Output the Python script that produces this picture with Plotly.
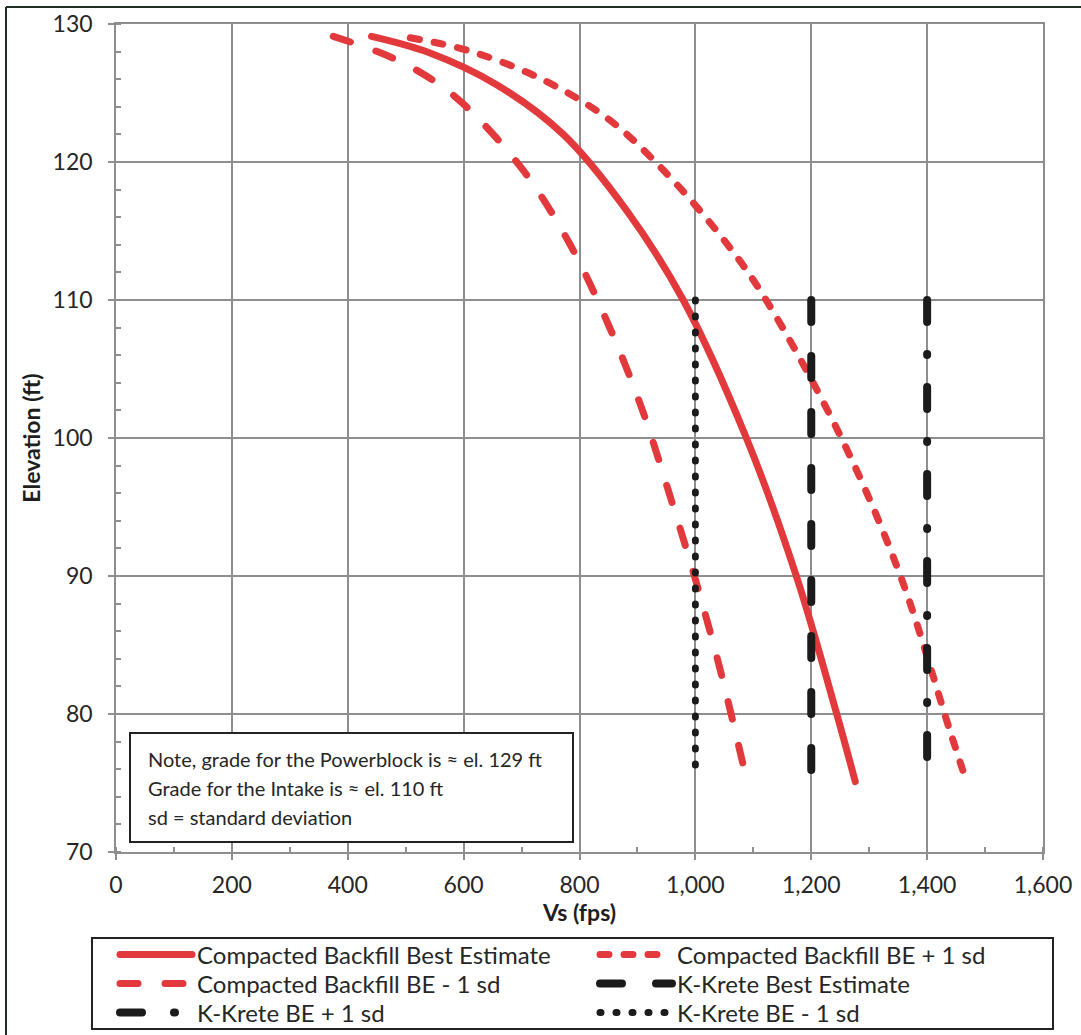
import plotly.graph_objects as go

# ---- data ----
cb_be_vs = [441, 542, 657, 772, 881, 979, 1088, 1175, 1244, 1276]
cb_be_el = [129.1, 127.9, 125.6, 122.0, 116.5, 110.0, 100.0, 89.9, 80.0, 75.1]

cb_p1_vs = [508, 606, 730, 847, 945, 1054, 1122, 1252, 1354, 1440, 1468]
cb_p1_el = [129.0, 128.1, 126.1, 123.2, 119.4, 114.1, 110.0, 100.0, 90.0, 78.7, 75.1]

cb_m1_vs = [375, 466, 535, 597, 701, 784, 851, 907, 954, 999, 1041, 1082]
cb_m1_el = [129.1, 127.75, 126.25, 124.3, 119.5, 114.0, 108.1, 102.2, 96.1, 89.9, 83.5, 76.4]

kk_be_vs = [1200, 1200]
kk_be_el = [110.0, 75.3]
kk_p1_vs = [1400, 1400]
kk_p1_el = [110.0, 75.3]
kk_m1_vs = [1000, 1000]
kk_m1_el = [110.0, 75.3]

names = ["Compacted Backfill Best Estimate", "Compacted Backfill BE + 1 sd",
         "Compacted Backfill BE - 1 sd", "K-Krete Best Estimate",
         "K-Krete BE + 1 sd", "K-Krete BE - 1 sd"]

note_lines = ["Note, grade for the Powerblock is \u2248 el. 129 ft",
              "Grade for the Intake is \u2248 el. 110 ft",
              "sd = standard deviation"]

x_ticks = [0, 200, 400, 600, 800, 1000, 1200, 1400, 1600]
y_ticks = [70, 80, 90, 100, 110, 120, 130]

RED = "#E23A3C"
BLK = "#1b1b1b"
GRID = "#8e8e8e"
FONT = "Lato"
TXT = "#262626"

W, H = 1081, 1035
L, R, T, B = 116, 38, 24, 183
pw, ph = W - L - R, H - T - B

def px(xp):
    return (xp - L) / pw

def py(yp):
    return (H - B - yp) / ph

leg_ids = ["legend", "legend2", "legend3", "legend4", "legend5", "legend6"]

fig = go.Figure()
fig.add_trace(go.Scatter(x=cb_be_vs, y=cb_be_el, name=names[0], mode="lines", legend=leg_ids[0],
                         line=dict(color=RED, width=7, shape="spline", smoothing=1)))
fig.add_trace(go.Scatter(x=cb_p1_vs, y=cb_p1_el, name=names[1], mode="lines", legend=leg_ids[1],
                         line=dict(color=RED, width=7, shape="spline", smoothing=1, dash="9px,15px")))
fig.add_trace(go.Scatter(x=cb_m1_vs, y=cb_m1_el, name=names[2], mode="lines", legend=leg_ids[2],
                         line=dict(color=RED, width=7, shape="spline", smoothing=1, dash="18px,27px")))
fig.add_trace(go.Scatter(x=kk_be_vs, y=kk_be_el, name=names[3], mode="lines", legend=leg_ids[3],
                         line=dict(color=BLK, width=8, dash="22px,34px")))
fig.add_trace(go.Scatter(x=kk_p1_vs, y=kk_p1_el, name=names[4], mode="lines", legend=leg_ids[4],
                         line=dict(color=BLK, width=8, dash="22px,32px,1px,32px")))
fig.add_trace(go.Scatter(x=kk_m1_vs, y=kk_m1_el, name=names[5], mode="lines", legend=leg_ids[5],
                         line=dict(color=BLK, width=7, dash="1px,15px")))

col_x = [115, 595]
row_y = [955, 984, 1013]
legends = {}
for i, lid in enumerate(leg_ids):
    legends[lid] = dict(orientation="v", xanchor="left", yanchor="middle", borderwidth=0,
                        bgcolor="rgba(0,0,0,0)", itemwidth=72, tracegroupgap=0,
                        x=px(col_x[i % 2]), y=py(row_y[i // 2]),
                        font=dict(family=FONT, size=24, color=TXT))

fig.update_layout(
    width=W, height=H,
    margin=dict(l=L, r=R, t=T, b=B, pad=0, autoexpand=False),
    paper_bgcolor="white", plot_bgcolor="white",
    font=dict(family=FONT, size=22, color=TXT),
    showlegend=True,
    **legends,
)

fig.update_xaxes(range=[0, 1600], tickvals=x_ticks, tickformat=",d", automargin=False,
                 showgrid=True, gridcolor=GRID, gridwidth=1.5,
                 showline=True, linecolor=GRID, linewidth=1.5, mirror=True,
                 ticks="outside", ticklen=6, tickcolor=GRID, tickwidth=1.5,
                 ticklabelstandoff=6,
                 minor=dict(dtick=100, ticks="inside", ticklen=5, tickcolor=GRID, showgrid=False),
                 tickfont=dict(family=FONT, size=23, color=TXT),
                 title=dict(text="<b>Vs (fps)</b>", font=dict(family=FONT, size=23, color="#1e1e1e"), standoff=1),
                 zeroline=False)
fig.update_yaxes(range=[70, 130], tickvals=y_ticks, automargin=False,
                 showgrid=True, gridcolor=GRID, gridwidth=1.5,
                 showline=True, linecolor=GRID, linewidth=1.5, mirror=True,
                 ticks="outside", ticklen=6, tickcolor=GRID, tickwidth=1.5,
                 ticklabelstandoff=11,
                 minor=dict(dtick=2, ticks="inside", ticklen=5, tickcolor=GRID, showgrid=False),
                 tickfont=dict(family=FONT, size=23, color=TXT),
                 title=dict(text="<b>Elevation (ft)</b>", font=dict(family=FONT, size=23, color="#1e1e1e"), standoff=6),
                 zeroline=False)

# note box
fig.add_shape(type="rect", xref="paper", yref="paper",
              x0=px(130), x1=px(573), y0=py(842), y1=py(733),
              line=dict(color="#222", width=2), fillcolor="white", layer="above")
for i, t in enumerate(note_lines):
    fig.add_annotation(xref="paper", yref="paper", x=px(146), y=py(759 + 29 * i),
                       text=t, showarrow=False, xanchor="left", yanchor="middle",
                       font=dict(family=FONT, size=20, color=TXT))

# legend frame
fig.add_shape(type="rect", xref="paper", yref="paper",
              x0=px(92), x1=px(1053), y0=py(1029), y1=py(938),
              line=dict(color="#222", width=2), fillcolor="rgba(0,0,0,0)", layer="above")

# outer border (top and left visible)
fig.add_shape(type="line", xref="paper", yref="paper", x0=px(6), x1=px(1081), y0=py(7), y1=py(7),
              line=dict(color="#203020", width=2))
fig.add_shape(type="line", xref="paper", yref="paper", x0=px(6), x1=px(6), y0=py(7), y1=py(1035),
              line=dict(color="#203020", width=2))

post = """
document.body.style.margin = '0';
document.body.style.padding = '0';
var gd = document.getElementsByClassName('plotly-graph-div')[0];
function rc(){ gd.querySelectorAll('path.js-line').forEach(function(p){ p.style.strokeLinecap='round'; }); }
rc(); if (gd.on) { gd.on('plotly_afterplot', rc); }
"""
fig.write_html("out.html", post_script=post, config={"displayModeBar": False})
